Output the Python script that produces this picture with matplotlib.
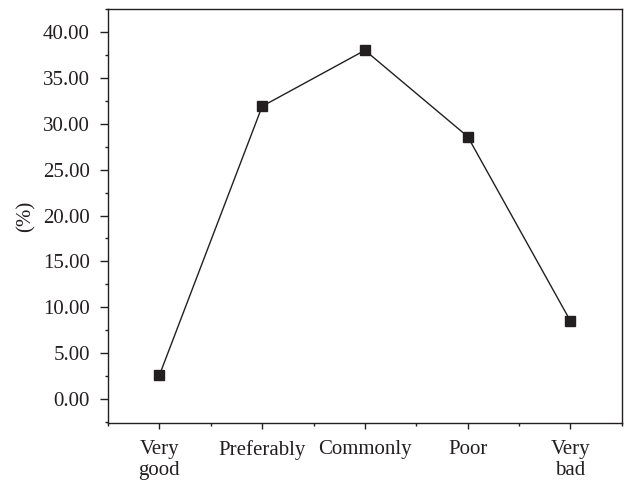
import matplotlib.pyplot as plt
from matplotlib.ticker import MultipleLocator, FormatStrFormatter

categories = ['Very\ngood', 'Preferably', 'Commonly', 'Poor', 'Very\nbad']
percent = [2.6, 31.9, 38.0, 28.6, 8.5]

plt.rcParams['font.family'] = 'Liberation Serif'
plt.rcParams['font.size'] = 15

fig = plt.figure(figsize=(6.25, 4.83), dpi=100)
ax = fig.add_axes([0.1728, 0.1242, 0.8222, 0.8572])

pos = list(range(1, len(categories) + 1))
ax.plot(pos, percent, color='#231f20', linewidth=1.0, marker='s', markersize=7)

ax.set_xlim(0.5, 5.5)
ax.set_ylim(-2.6, 42.5)
ax.set_xticks(pos)
ax.set_xticklabels(categories, va='top', linespacing=1.1)
ax.set_xticks([0.5, 1.5, 2.5, 3.5, 4.5, 5.5], minor=True)
ax.yaxis.set_major_locator(MultipleLocator(5))
ax.yaxis.set_minor_locator(MultipleLocator(2.5))
ax.yaxis.set_major_formatter(FormatStrFormatter('%.2f'))
ax.set_ylabel('(%)', color='#231f20', labelpad=5)

for s in ax.spines.values():
    s.set_color('#231f20')
    s.set_linewidth(1.0)
ax.tick_params(which='both', direction='out', width=1, color='#231f20', labelcolor='#231f20')
ax.tick_params(axis='y', which='major', length=6, pad=7)
ax.tick_params(axis='y', which='minor', length=2.5)
ax.tick_params(axis='x', which='major', length=4.5, pad=8)
ax.tick_params(axis='x', which='minor', length=2.5)

fig.savefig('out.png', dpi=100)
